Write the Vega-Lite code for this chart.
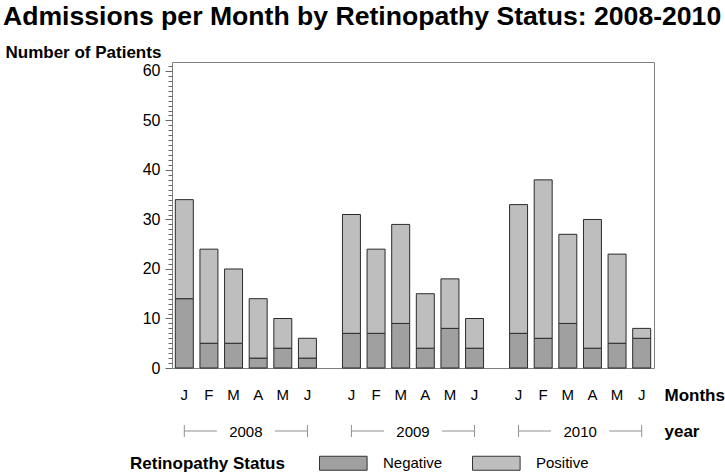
{
  "$schema": "https://vega.github.io/schema/vega-lite/v6.json",
  "width": 482,
  "height": 306,
  "autosize": {"type": "none"},
  "padding": {"left": 172, "top": 62, "right": 71, "bottom": 107},
  "background": "white",
  "config": {"font": "Liberation Sans", "view": {"stroke": "#7f7f7f", "strokeWidth": 1}},
  "title": {
    "text": "Admissions per Month by Retinopathy Status: 2008-2010",
    "anchor": "start", "frame": "group", "dx": -169, "offset": 12,
    "fontSize": 26.6, "fontWeight": "bold", "font": "Liberation Sans", "color": "black"
  },
  "datasets": {
    "adm": [
      {"year": "2008", "month": 1, "letter": "J", "status": "Negative", "count": 14},
      {"year": "2008", "month": 1, "letter": "J", "status": "Positive", "count": 20},
      {"year": "2008", "month": 2, "letter": "F", "status": "Negative", "count": 5},
      {"year": "2008", "month": 2, "letter": "F", "status": "Positive", "count": 19},
      {"year": "2008", "month": 3, "letter": "M", "status": "Negative", "count": 5},
      {"year": "2008", "month": 3, "letter": "M", "status": "Positive", "count": 15},
      {"year": "2008", "month": 4, "letter": "A", "status": "Negative", "count": 2},
      {"year": "2008", "month": 4, "letter": "A", "status": "Positive", "count": 12},
      {"year": "2008", "month": 5, "letter": "M", "status": "Negative", "count": 4},
      {"year": "2008", "month": 5, "letter": "M", "status": "Positive", "count": 6},
      {"year": "2008", "month": 6, "letter": "J", "status": "Negative", "count": 2},
      {"year": "2008", "month": 6, "letter": "J", "status": "Positive", "count": 4},
      {"year": "2009", "month": 1, "letter": "J", "status": "Negative", "count": 7},
      {"year": "2009", "month": 1, "letter": "J", "status": "Positive", "count": 24},
      {"year": "2009", "month": 2, "letter": "F", "status": "Negative", "count": 7},
      {"year": "2009", "month": 2, "letter": "F", "status": "Positive", "count": 17},
      {"year": "2009", "month": 3, "letter": "M", "status": "Negative", "count": 9},
      {"year": "2009", "month": 3, "letter": "M", "status": "Positive", "count": 20},
      {"year": "2009", "month": 4, "letter": "A", "status": "Negative", "count": 4},
      {"year": "2009", "month": 4, "letter": "A", "status": "Positive", "count": 11},
      {"year": "2009", "month": 5, "letter": "M", "status": "Negative", "count": 8},
      {"year": "2009", "month": 5, "letter": "M", "status": "Positive", "count": 10},
      {"year": "2009", "month": 6, "letter": "J", "status": "Negative", "count": 4},
      {"year": "2009", "month": 6, "letter": "J", "status": "Positive", "count": 6},
      {"year": "2010", "month": 1, "letter": "J", "status": "Negative", "count": 7},
      {"year": "2010", "month": 1, "letter": "J", "status": "Positive", "count": 26},
      {"year": "2010", "month": 2, "letter": "F", "status": "Negative", "count": 6},
      {"year": "2010", "month": 2, "letter": "F", "status": "Positive", "count": 32},
      {"year": "2010", "month": 3, "letter": "M", "status": "Negative", "count": 9},
      {"year": "2010", "month": 3, "letter": "M", "status": "Positive", "count": 18},
      {"year": "2010", "month": 4, "letter": "A", "status": "Negative", "count": 4},
      {"year": "2010", "month": 4, "letter": "A", "status": "Positive", "count": 26},
      {"year": "2010", "month": 5, "letter": "M", "status": "Negative", "count": 5},
      {"year": "2010", "month": 5, "letter": "M", "status": "Positive", "count": 18},
      {"year": "2010", "month": 6, "letter": "J", "status": "Negative", "count": 6},
      {"year": "2010", "month": 6, "letter": "J", "status": "Positive", "count": 2}
    ],
    "yrs": [{"year": "2008"}, {"year": "2009"}, {"year": "2010"}]
  },
  "layer": [
    {
      "data": {"name": "adm"},
      "mark": {"type": "bar", "stroke": "#2b2b2b", "strokeWidth": 1},
      "encoding": {
        "x": {
          "field": "year", "type": "nominal",
          "scale": {"paddingInner": 0.116, "paddingOuter": 0},
          "axis": {
            "title": "year", "labelAngle": 0, "ticks": false, "domain": false,
            "labelPadding": 63, "labelBaseline": "middle", "labelFontSize": 15, "labelColor": "black",
            "titleFontSize": 17, "titleFontWeight": "bold", "titleColor": "black",
            "titleX": 492, "titleY": 63, "titleAlign": "left", "titleBaseline": "middle"
          }
        },
        "xOffset": {"field": "month", "type": "ordinal", "scale": {"paddingInner": 0.27, "paddingOuter": 0.135}},
        "y": {
          "field": "count", "type": "quantitative", "stack": "zero",
          "scale": {"domain": [0, 61.8], "nice": false},
          "axis": {
            "title": "Number of Patients", "values": [0, 10, 20, 30, 40, 50, 60],
            "tickSize": 7, "tickColor": "#666666", "labelPadding": 5, "labelFontSize": 16, "labelColor": "black",
            "domain": false, "grid": false,
            "titleAngle": 0, "titleAlign": "left", "titleBaseline": "alphabetic", "titleX": -167, "titleY": -5,
            "titleFontSize": 17, "titleFontWeight": "bold", "titleColor": "black"
          }
        },
        "color": {
          "field": "status", "type": "nominal",
          "scale": {"domain": ["Negative", "Positive"], "range": ["#a0a0a0", "#bebebe"]},
          "legend": {
            "orient": "none", "legendX": -42, "legendY": 393.5, "direction": "horizontal",
            "title": "Retinopathy Status", "titleOrient": "left",
            "titleFontSize": 17, "titleFontWeight": "bold",
            "titleColor": "black", "titlePadding": 34,
            "labelFontSize": 15, "labelColor": "black", "labelOffset": 49, "columnPadding": 27,
            "symbolType": "M-1,-1L5.8,-1L5.8,1L-1,1Z", "symbolSize": 196,
            "symbolStrokeColor": "#333333", "symbolStrokeWidth": 1, "symbolOpacity": 1
          }
        },
        "order": {"field": "status"}
      }
    },
    {
      "data": {"name": "adm"},
      "transform": [{"filter": "datum.status == 'Negative'"}],
      "mark": {"type": "text", "dy": 27, "fontSize": 15, "baseline": "middle", "color": "black"},
      "encoding": {
        "x": {
          "field": "year", "type": "nominal",
          "axis": {
            "orient": "bottom", "title": "Months", "labels": false, "ticks": false, "domain": false,
            "titleFontSize": 17, "titleFontWeight": "bold", "titleColor": "black",
            "titleX": 492, "titleY": 27, "titleAlign": "left", "titleBaseline": "middle"
          }
        },
        "xOffset": {"field": "month", "type": "ordinal"},
        "y": {
          "datum": 0, "type": "quantitative",
          "axis": {
            "orient": "left", "title": null, "labels": false, "domain": false, "grid": false,
            "tickSize": 4, "tickColor": "#666666",
            "values": [1,2,3,4,5,6,7,8,9,11,12,13,14,15,16,17,18,19,21,22,23,24,25,26,27,28,29,31,32,33,34,35,36,37,38,39,41,42,43,44,45,46,47,48,49,51,52,53,54,55,56,57,58,59,61]
          }
        },
        "text": {"field": "letter"}
      }
    },
    {
      "data": {"name": "yrs"},
      "mark": {"type": "rule", "color": "#909090", "xOffset": 12.3, "x2Offset": -29, "yOffset": 63},
      "encoding": {
        "x": {"field": "year", "type": "nominal", "bandPosition": 0, "axis": null},
        "x2": {"field": "year", "bandPosition": 0.5},
        "y": {"datum": 0, "type": "quantitative", "axis": null}
      }
    },
    {
      "data": {"name": "yrs"},
      "mark": {"type": "rule", "color": "#909090", "xOffset": 29, "x2Offset": -12.3, "yOffset": 63},
      "encoding": {
        "x": {"field": "year", "type": "nominal", "bandPosition": 0.5, "axis": null},
        "x2": {"field": "year", "bandPosition": 1},
        "y": {"datum": 0, "type": "quantitative", "axis": null}
      }
    },
    {
      "data": {"name": "yrs"},
      "mark": {"type": "rule", "color": "#909090", "xOffset": 12.3, "yOffset": 57, "y2Offset": 69},
      "encoding": {
        "x": {"field": "year", "type": "nominal", "bandPosition": 0, "axis": null},
        "y": {"datum": 0, "type": "quantitative", "axis": null},
        "y2": {"datum": 0}
      }
    },
    {
      "data": {"name": "yrs"},
      "mark": {"type": "rule", "color": "#909090", "xOffset": -12.3, "yOffset": 57, "y2Offset": 69},
      "encoding": {
        "x": {"field": "year", "type": "nominal", "bandPosition": 1, "axis": null},
        "y": {"datum": 0, "type": "quantitative", "axis": null},
        "y2": {"datum": 0}
      }
    }
  ],
  "resolve": {"axis": {"x": "independent", "y": "independent"}}
}
